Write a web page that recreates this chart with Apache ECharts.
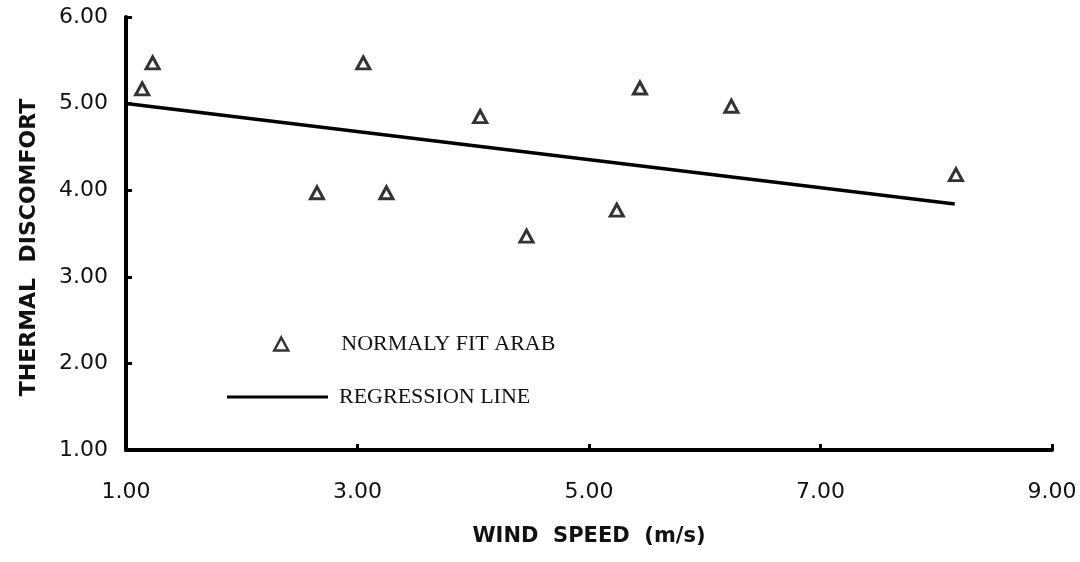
<!DOCTYPE html>
<html lang="en" style="height: 100%">
<head>
<meta charset="utf-8">
<title>Thermal discomfort vs wind speed</title>
</head>
<body style="height: 100%; margin: 0; background: #fff">
<div id="container" style="width: 1080px; height: 562px"></div>

<script type="text/javascript" src="https://cdn.jsdelivr.net/npm/echarts/dist/echarts.min.js"></script>

<script type="text/javascript">
// values
var windSpeed = [1.14, 1.23, 2.65, 3.05, 3.25, 4.06, 4.46, 5.24, 5.44, 6.23, 8.17];
var discomfort = [5.17, 5.47, 3.97, 5.47, 3.97, 4.85, 3.47, 3.77, 5.18, 4.97, 4.18];
var regressionX = [1.0, 8.16];
var regressionY = [5.0, 3.84];
var xTicks = [1, 3, 5, 7, 9];
var yTicks = [1, 2, 3, 4, 5, 6];

var dom = document.getElementById('container');
var myChart = echarts.init(dom);

var labelFont = { fontFamily: 'DejaVu Sans', fontSize: 22, color: '#111' };
var nameFont = { fontFamily: 'DejaVu Sans', fontSize: 21, fontWeight: 'bold', color: '#111' };
var legendFont = { fontFamily: 'Liberation Serif', fontSize: 22, color: '#111' };

var option = {
    animation: false,
    backgroundColor: '#fff',
    grid: {
        left: 126,
        right: 28,
        top: 17,
        bottom: 112
    },
    legend: [
        {
            left: 273,
            top: 333,
            padding: 0,
            itemWidth: 14,
            itemHeight: 13,
            itemStyle: { color: '#fff', borderColor: '#000', borderWidth: 2.5 },
            data: [{ name: 'NORMALY FIT ARAB', icon: 'triangle' }],
            textStyle: Object.assign({ padding: [0, 0, 0, 48] }, legendFont)
        },
        {
            left: 227,
            top: 386,
            padding: 0,
            itemWidth: 101,
            itemHeight: 3,
            data: [{ name: 'REGRESSION LINE', icon: 'rect' }],
            textStyle: Object.assign({ padding: [0, 0, 0, 6] }, legendFont)
        }
    ],
    xAxis: {
        type: 'value',
        min: xTicks[0],
        max: xTicks[xTicks.length - 1],
        interval: 2,
        name: 'WIND  SPEED  (m/s)',
        nameLocation: 'middle',
        nameGap: 76,
        nameTextStyle: nameFont,
        splitLine: { show: false },
        axisLine: { lineStyle: { color: '#000', width: 4 } },
        axisTick: { inside: true, length: 6, lineStyle: { color: '#000', width: 3 } },
        axisLabel: Object.assign({
            margin: 31,
            formatter: function (v) { return v.toFixed(2); }
        }, labelFont)
    },
    yAxis: {
        type: 'value',
        min: yTicks[0],
        max: yTicks[yTicks.length - 1],
        interval: 1,
        name: 'THERMAL  DISCOMFORT',
        nameLocation: 'middle',
        nameGap: 86,
        nameTextStyle: Object.assign({}, nameFont, { fontSize: 22, padding: [0, 28, 0, 0] }),
        splitLine: { show: false },
        axisLine: { lineStyle: { color: '#000', width: 4 } },
        axisTick: { inside: true, length: 6, lineStyle: { color: '#000', width: 3 } },
        axisLabel: Object.assign({
            margin: 18,
            formatter: function (v) { return v.toFixed(2); }
        }, labelFont)
    },
    series: [
        {
            name: 'NORMALY FIT ARAB',
            type: 'scatter',
            symbol: 'triangle',
            symbolSize: [13, 12],
            itemStyle: { color: '#fff', borderColor: '#000', borderWidth: 3 },
            data: windSpeed.map(function (x, i) { return [x, discomfort[i]]; })
        },
        {
            name: 'REGRESSION LINE',
            type: 'line',
            showSymbol: false,
            symbol: 'none',
            itemStyle: { color: '#000' },
            lineStyle: { color: '#000', width: 3.5 },
            data: regressionX.map(function (x, i) { return [x, regressionY[i]]; })
        }
    ]
};

myChart.setOption(option);
window.addEventListener('resize', myChart.resize);
</script>
</body>
</html>
